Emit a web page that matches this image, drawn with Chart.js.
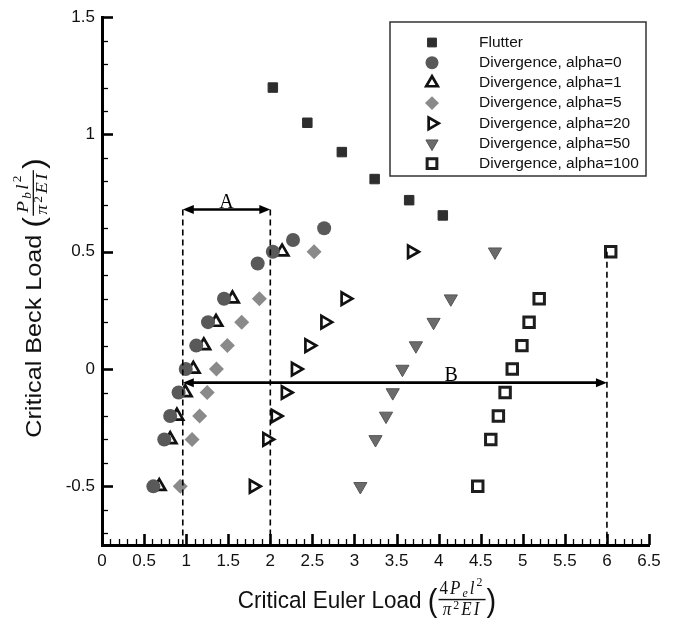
<!DOCTYPE html>
<html>
<head>
<meta charset="utf-8">
<script src="https://cdn.jsdelivr.net/npm/chart.js@4.4.0/dist/chart.umd.min.js"></script>
<style>
  body { margin: 0; background: #fff; }
  #wrap { width: 677px; height: 619px; }
</style>
</head>
<body>
<div id="wrap"><canvas id="beckChart" width="677" height="619"></canvas></div>
<script>
// tick labels
const xTicks = [0, 0.5, 1, 1.5, 2, 2.5, 3, 3.5, 4, 4.5, 5, 5.5, 6, 6.5];
const yTicks = [-0.5, 0, 0.5, 1, 1.5];

// series (x = critical Euler load, y = critical Beck load)
const flutterX = [2.03, 2.44, 2.85, 3.24, 3.65, 4.05];
const flutterY = [1.2, 1.05, 0.925, 0.81, 0.72, 0.655];

const a0X = [0.61, 0.74, 0.81, 0.91, 0.995, 1.12, 1.26, 1.45, 1.85, 2.03, 2.27, 2.64];
const a0Y = [-0.5, -0.3, -0.2, -0.1, 0, 0.1, 0.2, 0.3, 0.45, 0.5, 0.55, 0.6];

const a1X = [0.68, 0.81, 0.89, 0.99, 1.085, 1.21, 1.355, 1.55, 2.14];
const a1Y = [-0.5, -0.3, -0.2, -0.1, 0, 0.1, 0.2, 0.3, 0.5];

const a5X = [0.93, 1.07, 1.16, 1.25, 1.36, 1.49, 1.66, 1.87, 2.52];
const a5Y = [-0.5, -0.3, -0.2, -0.1, 0, 0.1, 0.2, 0.3, 0.5];

const a20X = [1.8, 1.96, 2.06, 2.18, 2.3, 2.46, 2.65, 2.89, 3.68];
const a20Y = [-0.5, -0.3, -0.2, -0.1, 0, 0.1, 0.2, 0.3, 0.5];

const a50X = [3.07, 3.25, 3.375, 3.455, 3.57, 3.73, 3.94, 4.145, 4.67];
const a50Y = [-0.5, -0.3, -0.2, -0.1, 0, 0.1, 0.2, 0.3, 0.5];

const a100X = [4.465, 4.62, 4.71, 4.79, 4.875, 4.99, 5.075, 5.195, 6.045];
const a100Y = [-0.5, -0.3, -0.2, -0.1, 0, 0.1, 0.2, 0.3, 0.5];

// annotation values (A and B ranges)
const rangeA = [0.96, 2.0];
const rangeAY = 0.68;
const rangeB = [0.96, 6.0];
const rangeBY = -0.058;
const labelAX = 1.48;
const labelBX = 4.15;

function pts(xs, ys) {
    return xs.map((x, i) => ({ x: x, y: ys[i] }));
}

function series(label, xs, ys, style, rot, r, fill, stroke, bw) {
    return {
        label: label,
        data: pts(xs, ys),
        pointStyle: style,
        rotation: rot,
        pointRadius: r,
        pointHoverRadius: r,
        backgroundColor: fill,
        borderColor: stroke,
        borderWidth: bw,
        showLine: false
    };
}

const datasets = [
    series('Flutter', flutterX, flutterY, 'rect', 0, 6.7, '#2e2e2e', '#2e2e2e', 1),
    series('Divergence, alpha=0', a0X, a0Y, 'circle', 0, 7, '#595959', '#595959', 0),
    series('Divergence, alpha=1', a1X, a1Y, 'triangle', 0, 7.2, '#ffffff', '#111111', 2.7),
    series('Divergence, alpha=5', a5X, a5Y, 'rectRot', 0, 7.5, '#8a8a8a', '#8a8a8a', 0),
    series('Divergence, alpha=20', a20X, a20Y, 'triangle', 90, 7.2, '#ffffff', '#111111', 2.7),
    series('Divergence, alpha=50', a50X, a50Y, 'triangle', 180, 7.6, '#6b6b6b', '#555555', 1),
    series('Divergence, alpha=100', a100X, a100Y, 'rect', 0, 7.4, '#ffffff', '#1e1e1e', 3)
];

// draws text runs with italic / sub / sup parts; returns width
function runWidth(ctx, segs, size) {
    let w = 0;
    segs.forEach(s => {
        const sz = (s.sub || s.sup) ? size * 0.7 : size;
        ctx.font = (s.it ? 'italic ' : '') + sz + 'px "Liberation Serif"';
        w += ctx.measureText(s.t).width + size * 0.12;
    });
    return w;
}
function drawRun(ctx, segs, x, y, size, supUp) {
    segs.forEach(s => {
        const sz = (s.sub || s.sup) ? size * 0.7 : size;
        ctx.font = (s.it ? 'italic ' : '') + sz + 'px "Liberation Serif"';
        let dy = 0;
        if (s.sub) dy = size * 0.16;
        if (s.sup) dy = -size * supUp;
        ctx.fillText(s.t, x, y + dy);
        x += ctx.measureText(s.t).width + size * 0.12;
    });
}

// axis title = plain text + ( fraction )
function drawTitle(ctx, text, fsize, num, den, fr) {
    const sans = fsize + 'px "Liberation Sans"';
    const paren = Math.round(fsize * 1.3) + 'px "Liberation Sans"';
    ctx.font = sans;
    const tw = ctx.measureText(text).width;
    ctx.font = paren;
    const pw = ctx.measureText('(').width;
    const nw = runWidth(ctx, num, fr);
    const dw = runWidth(ctx, den, fr);
    const fw = Math.max(nw, dw) + 4;
    const total = tw + pw + fw + pw;
    let x = -total / 2;
    ctx.textAlign = 'left';
    ctx.textBaseline = 'alphabetic';
    ctx.font = sans;
    ctx.fillText(text, x, 0);
    x += tw;
    ctx.font = paren;
    ctx.fillText('(', x, fsize * 0.12);
    x += pw;
    const barY = -fsize * 0.37;
    ctx.fillRect(x + 1, barY, fw - 2, 1.3);
    drawRun(ctx, num, x + (fw - nw) / 2, barY - 4.5, fr, 0.4);
    drawRun(ctx, den, x + (fw - dw) / 2, barY + fr * 0.86, fr, 0.3);
    x += fw;
    ctx.font = paren;
    ctx.fillText(')', x, fsize * 0.12);
}

function arrowHead(ctx, x, y, dir) {
    ctx.beginPath();
    ctx.moveTo(x, y);
    ctx.lineTo(x - dir * 11, y - 4.5);
    ctx.lineTo(x - dir * 11, y + 4.5);
    ctx.closePath();
    ctx.fill();
}

const decorPlugin = {
    id: 'decor',
    afterDraw(chart) {
        const ctx = chart.ctx;
        const xs = chart.scales.x;
        const ys = chart.scales.y;
        const area = chart.chartArea;
        ctx.save();
        ctx.strokeStyle = '#000';
        ctx.fillStyle = '#000';

        // inward ticks, majors every 0.5, minors every 0.1
        for (let i = 0; i <= 65; i++) {
            const v = i / 10;
            const major = i % 5 === 0;
            const px = Math.round(xs.getPixelForValue(v)) + 0.5;
            ctx.lineWidth = major ? 2.6 : 1.3;
            ctx.beginPath();
            ctx.moveTo(px, area.bottom);
            ctx.lineTo(px, area.bottom - (major ? 11 : 6));
            ctx.stroke();
        }
        for (let i = -7; i <= 15; i++) {
            const v = i / 10;
            const major = i % 5 === 0;
            const py = Math.round(ys.getPixelForValue(v)) + 0.5;
            ctx.lineWidth = major ? 2.6 : 1.3;
            ctx.beginPath();
            ctx.moveTo(area.left, py);
            ctx.lineTo(area.left + (major ? 11 : 6), py);
            ctx.stroke();
        }

        // dashed guide lines
        ctx.lineWidth = 1.6;
        ctx.setLineDash([6, 4]);
        const guides = [[rangeA[0], rangeAY], [rangeA[1], rangeAY], [rangeB[1], 0.5]];
        guides.forEach(g => {
            const px = xs.getPixelForValue(g[0]);
            ctx.beginPath();
            ctx.moveTo(px, ys.getPixelForValue(g[1]));
            ctx.lineTo(px, area.bottom);
            ctx.stroke();
        });
        ctx.setLineDash([]);

        // double arrows A and B
        ctx.lineWidth = 2.6;
        [[rangeA, rangeAY, 'A', labelAX], [rangeB, rangeBY, 'B', labelBX]].forEach(a => {
            const x1 = xs.getPixelForValue(a[0][0]);
            const x2 = xs.getPixelForValue(a[0][1]);
            const py = ys.getPixelForValue(a[1]);
            ctx.beginPath();
            ctx.moveTo(x1 + 6, py);
            ctx.lineTo(x2 - 6, py);
            ctx.stroke();
            arrowHead(ctx, x1, py, -1);
            arrowHead(ctx, x2, py, 1);
            ctx.font = '20px "Liberation Serif"';
            ctx.textAlign = 'center';
            ctx.textBaseline = 'alphabetic';
            ctx.fillText(a[2], xs.getPixelForValue(a[3]), py - 2);
        });

        // legend
        const lx = 390, ly = 22, lw = 256, lh = 154;
        ctx.lineWidth = 1.5;
        ctx.strokeStyle = '#333';
        ctx.strokeRect(lx, ly, lw, lh);
        chart.data.datasets.forEach((ds, i) => {
            const cy = 42.5 + i * 20.2;
            ctx.fillStyle = ds.backgroundColor;
            ctx.strokeStyle = ds.borderColor;
            ctx.lineWidth = ds.borderWidth;
            Chart.helpers.drawPoint(ctx, {
                pointStyle: ds.pointStyle,
                rotation: ds.rotation,
                radius: ds.pointRadius * 0.93,
                borderWidth: ds.borderWidth
            }, 432, cy);
            ctx.fillStyle = '#111';
            ctx.font = '15.5px "Liberation Sans"';
            ctx.textAlign = 'left';
            ctx.textBaseline = 'middle';
            ctx.fillText(ds.label, 479, cy);
        });

        // axis titles
        ctx.fillStyle = '#111';
        ctx.save();
        ctx.translate(367, 608);
        ctx.scale(1, 1.1);
        drawTitle(ctx, 'Critical Euler Load ', 22.5,
            [{ t: '4' }, { t: 'P', it: true }, { t: 'e', it: true, sub: true }, { t: 'l', it: true }, { t: '2', sup: true }],
            [{ t: 'π', it: true }, { t: '2', sup: true }, { t: 'E', it: true }, { t: 'I', it: true }],
            17);
        ctx.restore();
        ctx.save();
        ctx.translate(41, 298);
        ctx.rotate(-Math.PI / 2);
        ctx.scale(1.12, 1);
        drawTitle(ctx, 'Critical Beck Load ', 22.5,
            [{ t: 'P', it: true }, { t: 'b', it: true, sub: true }, { t: 'l', it: true }, { t: '2', sup: true }],
            [{ t: 'π', it: true }, { t: '2', sup: true }, { t: 'E', it: true }, { t: 'I', it: true }],
            17);
        ctx.restore();
        ctx.restore();
    }
};

new Chart(document.getElementById('beckChart').getContext('2d'), {
    type: 'scatter',
    data: { datasets: datasets },
    options: {
        responsive: false,
        animation: false,
        events: [],
        layout: { padding: { top: 14, right: 28, left: 0, bottom: 0 } },
        plugins: {
            legend: { display: false },
            tooltip: { enabled: false }
        },
        scales: {
            x: {
                type: 'linear',
                min: 0,
                max: 6.5,
                afterFit: s => { s.height = 74; },
                afterBuildTicks: s => { s.ticks = xTicks.map(v => ({ value: v })); },
                grid: { display: false, drawTicks: false },
                border: { display: true, color: '#000', width: 3 },
                ticks: {
                    padding: 6,
                    color: '#111',
                    font: { family: 'Liberation Sans', size: 17 },
                    maxRotation: 0,
                    autoSkip: false,
                    callback: v => String(v)
                }
            },
            y: {
                type: 'linear',
                min: -0.75,
                max: 1.5,
                afterFit: s => { s.width = 102; },
                afterBuildTicks: s => { s.ticks = yTicks.map(v => ({ value: v })); },
                grid: { display: false, drawTicks: false },
                border: { display: true, color: '#000', width: 3 },
                ticks: {
                    padding: 7,
                    color: '#111',
                    font: { family: 'Liberation Sans', size: 17 },
                    autoSkip: false,
                    callback: v => String(v)
                }
            }
        }
    },
    plugins: [decorPlugin]
});
</script>
</body>
</html>
